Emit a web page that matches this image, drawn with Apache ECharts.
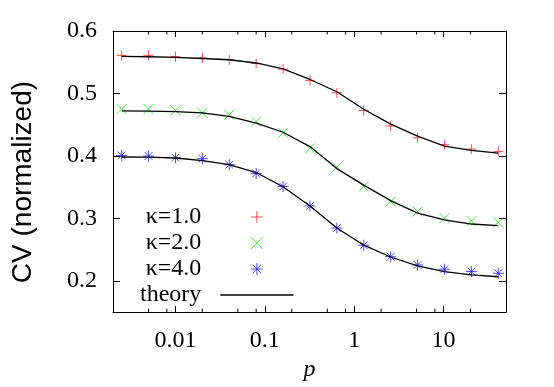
<!DOCTYPE html>
<html>
<head>
<meta charset="utf-8">
<script src="https://cdn.jsdelivr.net/npm/echarts@6/dist/echarts.min.js"></script>
<style>
html,body{margin:0;padding:0;background:#fff;}
#chart{width:554px;height:387px;}
</style>
</head>
<body>
<div id="chart"></div>
<script>
// ---- data ----
const pValues = [0.0025, 0.005, 0.01, 0.02, 0.04, 0.08, 0.16, 0.32, 0.64, 1.28, 2.56, 5.12, 10.24, 20.48, 40.96];
const kappa1 = [0.561, 0.561, 0.559, 0.557, 0.554, 0.548, 0.539, 0.521, 0.501, 0.473, 0.448, 0.429, 0.418, 0.411, 0.407];
const kappa2 = [0.475, 0.475, 0.473, 0.469, 0.466, 0.455, 0.437, 0.412, 0.382, 0.351, 0.327, 0.311, 0.3005, 0.296, 0.2936];
const kappa4 = [0.4008, 0.3998, 0.3971, 0.3956, 0.386, 0.372, 0.351, 0.32, 0.2846, 0.2571, 0.2387, 0.2255, 0.2186, 0.2149, 0.2122];
const theory1 = [0.5593, 0.5588, 0.5577, 0.556, 0.554, 0.5488, 0.5393, 0.5224, 0.5028, 0.4748, 0.451, 0.4316, 0.4157, 0.4088, 0.4046];
const theory2 = [0.4721, 0.4716, 0.471, 0.469, 0.4632, 0.4526, 0.4379, 0.415, 0.3797, 0.3533, 0.3285, 0.3084, 0.2978, 0.291, 0.2883];
const theory4 = [0.3983, 0.398, 0.3967, 0.3924, 0.386, 0.3734, 0.3507, 0.32, 0.2846, 0.2571, 0.2382, 0.2239, 0.2149, 0.2097, 0.2066];
const seriesNames = ['κ=1.0', 'κ=2.0', 'κ=4.0', 'theory'];
const xMajorTicks = [0.01, 0.1, 1, 10];
const xMinorTicks = [0.005, 0.008, 0.02, 0.05, 0.08, 0.2, 0.5, 0.8, 2, 5, 8, 20];
const xRange = [0.002, 50];
const yRange = [0.15, 0.6];

// ---- styling ----
const serif = '"Liberation Serif", "Times New Roman", "DejaVu Serif", serif';
const sans = '"Liberation Sans", Arial, Helvetica, sans-serif';
const plusPath = 'path://M0 5 L10 5 M5 0 L5 10';
const crossPath = 'path://M0 0 L10 10 M10 0 L0 10';
const starPath = 'path://M0 5 L10 5 M5 0 L5 10 M1.5 1.5 L8.5 8.5 M8.5 1.5 L1.5 8.5';
const colors = ['#ff2020', '#10e010', '#2020ff'];

const pairs = ys => pValues.map((p, i) => [p, ys[i]]);

function markSeries(name, ys, symbol, color, size) {
  return {
    type: 'scatter', name: name, data: pairs(ys),
    symbol: symbol, symbolSize: size,
    itemStyle: { color: 'transparent', borderColor: color, borderWidth: 1 },
    emphasis: { disabled: true }, z: 2
  };
}
function theorySeries(ys) {
  return {
    type: 'line', name: 'theory', data: pairs(ys),
    showSymbol: false, symbol: 'none', smooth: false,
    lineStyle: { color: '#000', width: 1.3 },
    emphasis: { disabled: true }, z: 3
  };
}

const axisLine = { show: true, onZero: false, lineStyle: { color: '#000', width: 1 } };
const labelFmt = v => String(+Number(v).toPrecision(6));
const hidden = { color: 'rgba(0,0,0,0)', borderColor: 'rgba(0,0,0,0)', borderWidth: 0, opacity: 0 };

const chart = echarts.init(document.getElementById('chart'), null, { renderer: 'canvas' });
chart.setOption({
  animation: false,
  backgroundColor: '#fff',
  grid: { left: 113, top: 31, width: 393, height: 284, containLabel: false },
  xAxis: [
    {
      type: 'log', logBase: 10, min: xRange[0], max: xRange[1], position: 'bottom',
      name: 'p', nameLocation: 'middle', nameGap: 42,
      nameTextStyle: { fontFamily: serif, fontStyle: 'italic', fontSize: 24, color: '#000' },
      axisLine: axisLine,
      axisTick: { show: true, inside: true, length: 6, lineStyle: { color: '#000' } },
      minorTick: { show: false },
      splitLine: { show: false },
      axisLabel: {
        fontFamily: serif, fontSize: 24, color: '#000', margin: 17,
        showMinLabel: false, showMaxLabel: false,
        formatter: v => (xMajorTicks.some(t => Math.abs(t - v) / t < 1e-6) ? labelFmt(v) : '')
      }
    },
    {
      type: 'log', logBase: 10, min: xRange[0], max: xRange[1], position: 'top',
      axisLine: axisLine,
      axisTick: { show: true, inside: true, length: 6, lineStyle: { color: '#000' } },
      splitLine: { show: false },
      axisLabel: { show: false }
    }
  ],
  yAxis: [
    {
      type: 'value', min: yRange[0], max: yRange[1], position: 'left',
      name: 'CV (normalized)', nameLocation: 'middle', nameGap: 76, nameRotate: 90,
      nameTextStyle: { fontFamily: sans, fontSize: 28, color: '#000', padding: [0, 21, 0, 0] },
      axisLine: axisLine,
      axisTick: { show: true, inside: true, length: 7, lineStyle: { color: '#000' } },
      splitLine: { show: false },
      axisLabel: { fontFamily: serif, fontSize: 24, color: '#000', margin: 16, showMinLabel: false, formatter: v => labelFmt(v) }
    },
    {
      type: 'value', min: yRange[0], max: yRange[1], position: 'right',
      axisLine: axisLine,
      axisTick: { show: true, inside: true, length: 7, lineStyle: { color: '#000' } },
      splitLine: { show: false },
      axisLabel: { show: false }
    }
  ],
  legend: {
    orient: 'vertical', align: 'right', right: 260, top: 204, padding: 0, itemGap: 0,
    itemWidth: 73, itemHeight: 12, selectedMode: false,
    textStyle: { fontFamily: serif, fontSize: 24, color: '#000', lineHeight: 26, padding: [0, 14, 0, 0] },
    data: [
      { name: seriesNames[0], itemStyle: { color: 'transparent', borderColor: colors[0], borderWidth: 1 } },
      { name: seriesNames[1], itemStyle: { color: 'transparent', borderColor: colors[1], borderWidth: 1 } },
      { name: seriesNames[2], itemStyle: { color: 'transparent', borderColor: colors[2], borderWidth: 1 } },
      { name: seriesNames[3], lineStyle: { color: '#000', width: 1.3 }, itemStyle: hidden }
    ]
  },
  series: [
    markSeries(seriesNames[0], kappa1, plusPath, colors[0], 10),
    markSeries(seriesNames[1], kappa2, crossPath, colors[1], 10),
    markSeries(seriesNames[2], kappa4, starPath, colors[2], 11),
    theorySeries(theory1),
    theorySeries(theory2),
    theorySeries(theory4),
    {
      type: 'custom', name: 'minorTicks', silent: true, clip: false, z: 5,
      data: xMinorTicks.map(v => [v, yRange[0]]),
      renderItem: function (params, api) {
        const cs = params.coordSys;
        const x = api.coord([api.value(0), api.value(1)])[0];
        const style = { stroke: '#000', lineWidth: 1 };
        return {
          type: 'group',
          children: [
            { type: 'line', shape: { x1: x, y1: cs.y + cs.height, x2: x, y2: cs.y + cs.height - 3.5 }, style: style },
            { type: 'line', shape: { x1: x, y1: cs.y, x2: x, y2: cs.y + 3.5 }, style: style }
          ]
        };
      }
    }
  ]
});
</script>
</body>
</html>
